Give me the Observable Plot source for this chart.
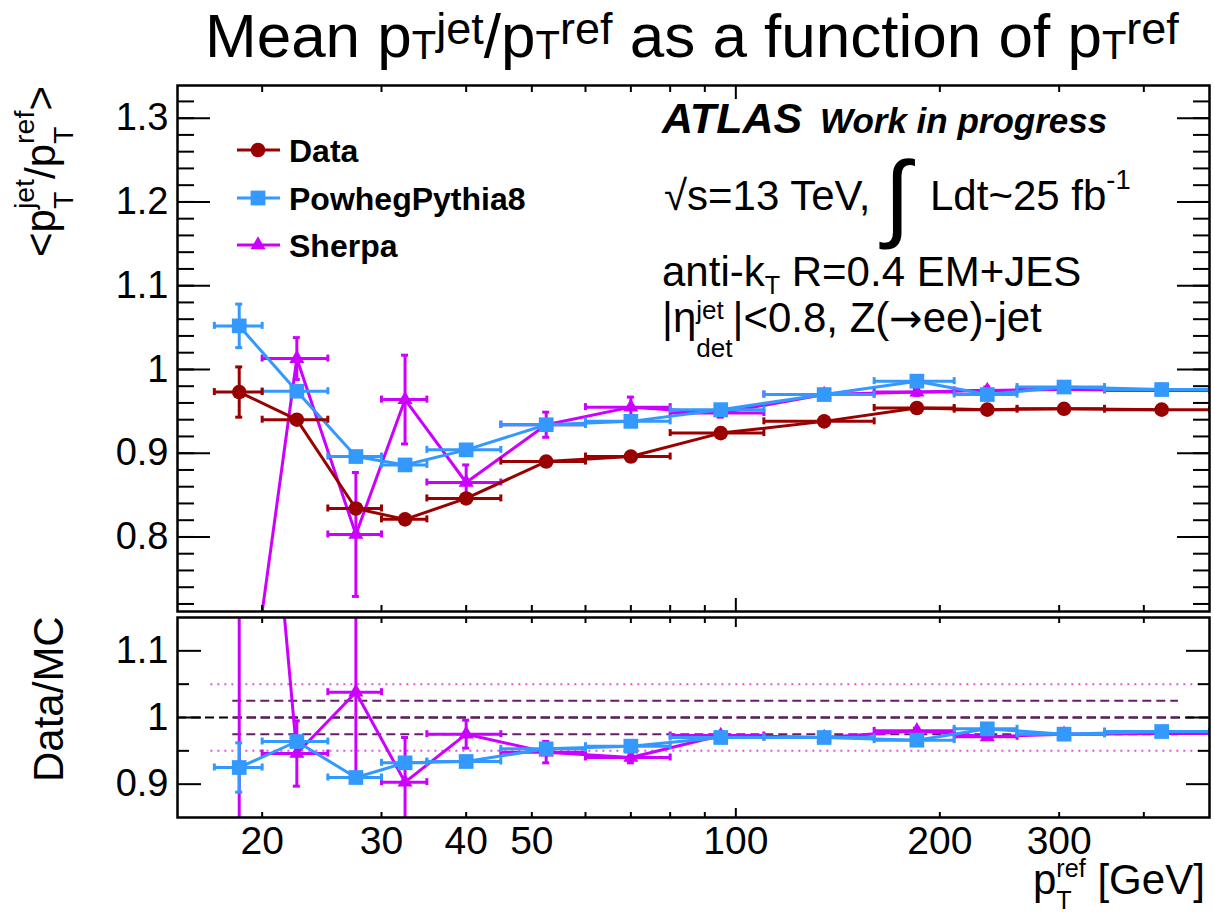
<!DOCTYPE html>
<html><head><meta charset="utf-8">
<script src="https://cdn.jsdelivr.net/npm/d3@7"></script>
<script src="https://cdn.jsdelivr.net/npm/@observablehq/plot@0.6"></script>
<style>
body{margin:0;background:#fff;}
#wrap{position:relative;width:1214px;height:917px;overflow:hidden;font-family:"Liberation Sans",Arial,Helvetica,sans-serif;}
#title{position:absolute;left:205px;top:5px;font-size:62px;line-height:62px;white-space:nowrap;color:#000;}
#title .sb{position:relative;font-size:40px;top:2px;}
#title .sp{position:relative;font-size:45px;top:-13px;}
#top,#bot{position:absolute;left:0;}
#top{top:80px}#bot{top:614px}
</style></head><body>
<div id="wrap">
<div id="title">Mean p<span class="sb">T</span><span class="sp">jet</span>/p<span class="sb">T</span><span class="sp">ref</span> as a function of p<span class="sb">T</span><span class="sp">ref</span></div>
<div id="top"></div><div id="bot"></div>
</div>
<script>
// ---- data ----
const binLow  = [17, 20, 25, 30, 35, 45, 60, 80, 110, 160, 210, 260, 350];
const binHigh = [20, 25, 30, 35, 45, 60, 80, 110, 160, 210, 260, 350, 500];
const ptCenter = [18.5, 22.5, 27.5, 32.5, 40, 52.5, 70, 95, 135, 185, 235, 305, 425];

const dataMean   = [0.973, 0.940, 0.834, 0.821, 0.846, 0.890, 0.896, 0.924, 0.938, 0.954, 0.952, 0.953, 0.952];
const dataErr    = [0.030, 0.004, 0.004, 0.004, 0.003, 0.003, 0.002, 0.002, 0.002, 0.002, 0.002, 0.002, 0.002];
const powhegMean = [1.052, 0.974, 0.896, 0.886, 0.904, 0.934, 0.938, 0.952, 0.970, 0.986, 0.970, 0.979, 0.976];
const powhegErr  = [0.026, 0.005, 0.004, 0.004, 0.004, 0.003, 0.003, 0.002, 0.002, 0.002, 0.002, 0.002, 0.002];
const sherpaMean = [0.510, 1.013, 0.803, 0.964, 0.865, 0.934, 0.955, 0.948, 0.970, 0.973, 0.975, 0.976, 0.975];
const sherpaErr  = [0.100, 0.025, 0.074, 0.053, 0.021, 0.015, 0.012, 0.005, 0.004, 0.004, 0.004, 0.003, 0.003];

const ratioPowheg    = [0.925, 0.964, 0.910, 0.932, 0.934, 0.953, 0.957, 0.970, 0.970, 0.966, 0.983, 0.975, 0.979];
const ratioPowhegErr = [0.037, 0.006, 0.006, 0.005, 0.005, 0.004, 0.004, 0.003, 0.003, 0.003, 0.003, 0.003, 0.003];
const ratioSherpa    = [1.900, 0.946, 1.038, 0.903, 0.975, 0.948, 0.940, 0.973, 0.970, 0.980, 0.971, 0.975, 0.976];
const ratioSherpaErr = [1.200, 0.049, 0.128, 0.067, 0.021, 0.016, 0.008, 0.004, 0.004, 0.004, 0.004, 0.004, 0.003];

const refDotted = [1.05, 0.95];
const refDashed = [1.025, 1.0, 0.975];
const refUnity = [1.0];
const dottedRange = [16.8, 492];
const dashedRange = [18.1, 450];

const xDomain = [15, 500];
const xMinorTicks = [20, 30, 40, 50, 60, 70, 80, 90, 200, 300, 400];
const xMajorTicks = [100];
const xTickLabels = [20, 30, 40, 50, 100, 200, 300];
const yTopDomain = [0.711, 1.339];
const yTopMajor = [0.8, 0.9, 1.0, 1.1, 1.2, 1.3];
const yTopMinor = d3.range(36, 67).map(i => i / 50);
const yBotDomain = [0.85, 1.15];
const yBotMajor = [0.9, 1.0, 1.1];
const yBotMinor = [0.95, 1.05];

const seriesNames = ["Data", "PowhegPythia8", "Sherpa"];
const colors = {Data: "#990000", PowhegPythia8: "#3399ff", Sherpa: "#cc00ff"};

// ---- helpers ----
const fontFam = '"Liberation Sans", Arial, Helvetica, sans-serif';
const fmt = d => `${+d.toFixed(2)}`;
function mk(means, errs) {
  return ptCenter.map((x, i) => ({x, lo: binLow[i], hi: binHigh[i], y: means[i], e: errs[i]}));
}
function seriesMarks(d, color, symbol, r) {
  const c = {stroke: color, strokeWidth: 3, clip: true};
  return [
    Plot.line(d, {x: "x", y: "y", ...c}),
    Plot.ruleY(d, {y: "y", x1: "lo", x2: "hi", ...c}),
    Plot.ruleX(d, {x: "x", y1: v => v.y - v.e, y2: v => v.y + v.e, ...c}),
    Plot.ruleX(d, {x: "lo", y1: "y", y2: "y", insetTop: -3.5, insetBottom: -3.5, ...c}),
    Plot.ruleX(d, {x: "hi", y1: "y", y2: "y", insetTop: -3.5, insetBottom: -3.5, ...c}),
    Plot.ruleY(d, {y: v => v.y + v.e, x1: "x", x2: "x", insetLeft: -3.5, insetRight: -3.5, ...c}),
    Plot.ruleY(d, {y: v => v.y - v.e, x1: "x", x2: "x", insetLeft: -3.5, insetRight: -3.5, ...c}),
    Plot.dot(d, {x: "x", y: "y", symbol, r, fill: color, stroke: "none", clip: true})
  ];
}
function xTickMarks(minorLen, majorLen) {
  return ["top", "bottom"].flatMap(anchor => [
    Plot.axisX({anchor, ticks: xMinorTicks, tickSize: -minorLen, tickFormat: () => "", label: null, strokeWidth: 2}),
    Plot.axisX({anchor, ticks: xMajorTicks, tickSize: -majorLen, tickFormat: () => "", label: null, strokeWidth: 2})
  ]);
}
function yTickMarks(minor, major, minorLen, majorLen) {
  return ["left", "right"].flatMap(anchor => [
    Plot.axisY({anchor, ticks: minor, tickSize: -minorLen, tickFormat: () => "", label: null, strokeWidth: 2}),
    Plot.axisY({anchor, ticks: major, tickSize: -majorLen, tickFormat: () => "", label: null, strokeWidth: 2})
  ]);
}
const baseStyle = {background: "transparent", fontFamily: fontFam, color: "#000", overflow: "visible"};

// ---- top panel ----
const topPlot = Plot.plot({
  width: 1214, height: 534,
  marginLeft: 177, marginRight: 5, marginTop: 5, marginBottom: 3,
  style: baseStyle,
  x: {type: "log", domain: xDomain},
  y: {domain: yTopDomain},
  marks: [
    ...seriesMarks(mk(sherpaMean, sherpaErr), colors.Sherpa, "triangle", 5.6),
    ...seriesMarks(mk(powhegMean, powhegErr), colors.PowhegPythia8, "square", 8.3),
    ...seriesMarks(mk(dataMean, dataErr), colors.Data, "circle", 7.3),
    ...xTickMarks(6, 13),
    ...yTickMarks(yTopMinor, yTopMajor, 17, 33),
    Plot.axisY({anchor: "left", ticks: yTopMajor, tickSize: 0, tickPadding: 9, tickFormat: fmt, fontSize: 38, label: null}),
    Plot.frame({strokeWidth: 2.5})
  ]
});
document.getElementById("top").appendChild(topPlot);

// ---- bottom panel ----
const botPlot = Plot.plot({
  width: 1214, height: 303,
  marginLeft: 177, marginRight: 5, marginTop: 3, marginBottom: 100,
  style: baseStyle,
  x: {type: "log", domain: xDomain},
  y: {domain: yBotDomain},
  marks: [
    Plot.ruleY(refUnity, {stroke: "#000", strokeWidth: 2, strokeDasharray: "9,5"}),
    Plot.ruleY(refDashed, {x1: dashedRange[0], x2: dashedRange[1], stroke: "#6b1a6b", strokeWidth: 2, strokeDasharray: "9,5"}),
    Plot.ruleY(refDotted, {x1: dottedRange[0], x2: dottedRange[1], stroke: "#e055e0", strokeWidth: 2, strokeDasharray: "2,5"}),
    ...seriesMarks(mk(ratioSherpa, ratioSherpaErr), colors.Sherpa, "triangle", 5.6),
    ...seriesMarks(mk(ratioPowheg, ratioPowhegErr), colors.PowhegPythia8, "square", 8.3),
    ...xTickMarks(5, 9),
    ...yTickMarks(yBotMinor, yBotMajor, 12, 24),
    Plot.axisY({anchor: "left", ticks: yBotMajor, tickSize: 0, tickPadding: 9, tickFormat: fmt, fontSize: 38, label: null}),
    Plot.axisX({anchor: "bottom", ticks: xTickLabels, tickSize: 0, tickPadding: 9, tickFormat: d => String(d), fontSize: 39, label: null}),
    Plot.frame({strokeWidth: 2.5})
  ]
});
document.getElementById("bot").appendChild(botPlot);

// ---- rich text annotations (real text) ----
function rich(svg, x, y, pieces, o = {}) {
  const size = o.size || 42;
  const g = d3.select(svg).append("g")
    .attr("transform", `translate(${x},${y})` + (o.rotate ? ` rotate(${o.rotate})` : ""))
    .attr("text-anchor", "start")
    .attr("font-family", fontFam).attr("font-weight", o.weight || "normal")
    .attr("font-style", o.style || "normal").attr("fill", "#000");
  let cx = 0;
  const put = (t, s, dy, font) => {
    const el = g.append("text").attr("x", cx).attr("y", dy * size).attr("font-size", s * size).text(t);
    if (font) el.attr("font-family", font);
    return el.node().getComputedTextLength();
  };
  for (const p of pieces) {
    if (typeof p === "string") cx += put(p, 1, 0);
    else if (p.sup !== undefined && p.sub !== undefined) {
      const w1 = put(p.sup, p.s || 0.68, p.up ?? -0.5);
      const w2 = put(p.sub, p.s || 0.68, p.down ?? 0.42);
      cx += Math.max(w1, w2);
    } else {
      cx += put(p.t, p.s || 0.68, p.dy || 0, p.font);
    }
  }
  return g;
}
const topSvg = topPlot, botSvg = botPlot;
// axis titles
rich(topSvg, 55, 177, ["<p", {sup: "jet", sub: "T"}, "/p", {sup: "ref", sub: "T"}, ">"], {rotate: -90});
rich(botSvg, 63, 168, ["Data/MC"], {rotate: -90});
rich(botSvg, 1033, 280, ["p", {sup: "ref", sub: "T", s: 0.6, up: -0.4, down: 0.36}, " [GeV]"]);
// ATLAS labels
rich(topSvg, 662, 53, ["ATLAS"], {weight: "bold", style: "italic", size: 43});
rich(topSvg, 820, 53, ["Work in progress"], {weight: "bold", style: "italic", size: 35});
rich(topSvg, 664, 130, ["\u221As=13 TeV,"]);
rich(topSvg, 884, 149, ["\u222B"], {size: 96});
rich(topSvg, 930, 130, ["Ldt~25 fb", {t: "-1", s: 0.65, dy: -0.5}]);
rich(topSvg, 662, 206, ["anti-k", {t: "T", s: 0.6, dy: 0.2}, " R=0.4 EM+JES"]);
rich(topSvg, 662, 252, ["|\u03B7", {sup: "jet", sub: "det", s: 0.62, up: -0.3, down: 0.6}, "|<0.8, Z(", {t: "\u2192", s: 0.95, dy: 0, font: "DejaVu Sans"}, "ee)-jet"]);

// legend
const leg = d3.select(topSvg).append("g").attr("font-family", fontFam).attr("text-anchor", "start");
const legRows = [70, 118, 165];
const symbols = {Data: "circle", PowhegPythia8: "square", Sherpa: "triangle"};
seriesNames.forEach((name, i) => {
  const y = legRows[i], col = colors[name];
  leg.append("line").attr("x1", 237).attr("x2", 280).attr("y1", y).attr("y2", y).attr("stroke", col).attr("stroke-width", 3);
  const sym = symbols[name];
  if (sym === "circle") leg.append("circle").attr("cx", 258).attr("cy", y).attr("r", 7.3).attr("fill", col);
  else if (sym === "square") leg.append("rect").attr("x", 258 - 7.4).attr("y", y - 7.4).attr("width", 14.8).attr("height", 14.8).attr("fill", col);
  else leg.append("path").attr("d", d3.symbol(d3.symbolTriangle, Math.PI * 5.6 * 5.6)()).attr("transform", `translate(258,${y})`).attr("fill", col);
  leg.append("text").attr("x", 289).attr("y", y + 11.5).attr("font-size", 32).attr("font-weight", "bold").attr("fill", "#000").text(name);
});
</script>
</body></html>
